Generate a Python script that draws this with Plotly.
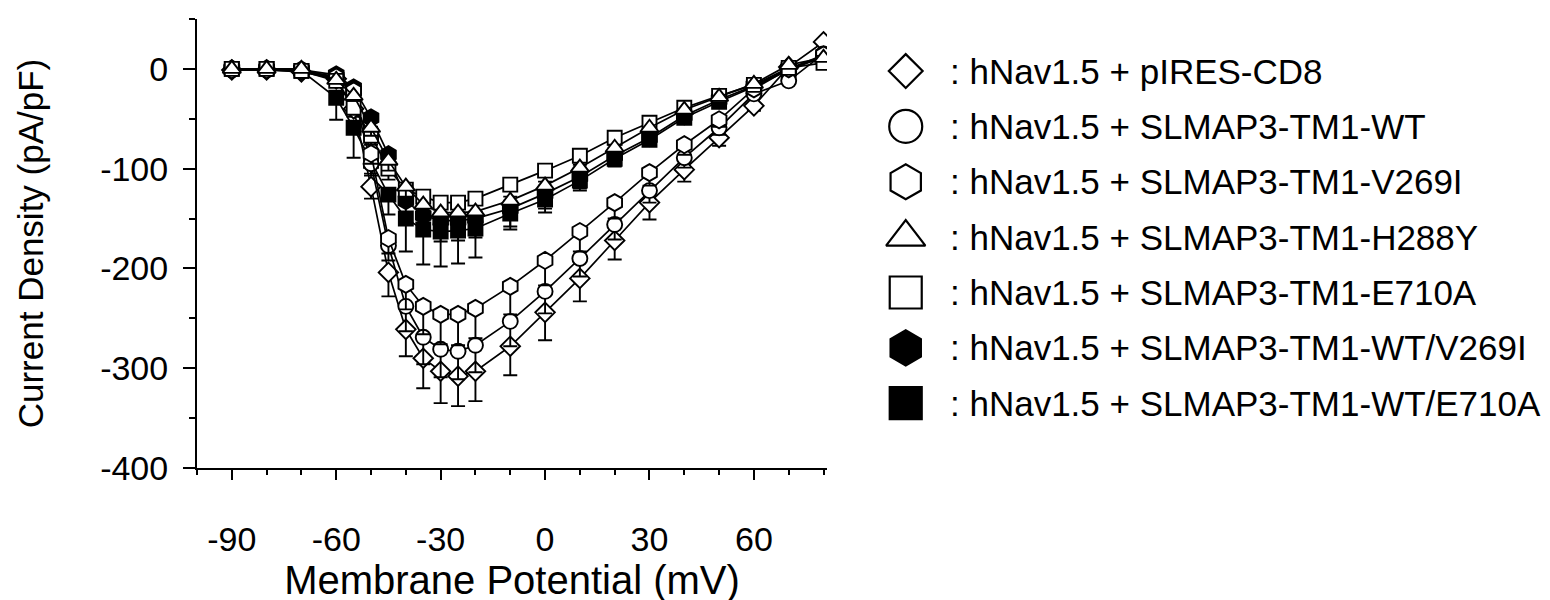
import plotly.graph_objects as go

# ---------------- data ----------------
voltage = [-90, -80, -70, -60, -55, -50, -45, -40, -35, -30, -25, -20,
           -10, 0, 10, 20, 30, 40, 50, 60, 70, 80]

pires_cd8 = [-1, -1, -3, -10, -40, -118, -204, -261, -290, -303, -308, -303,
             -278, -244, -210, -172, -134, -101, -69, -37, 2, 27]
pires_cd8_err = [0, 0, 1, 3, 8, 12, 24, 27, 30, 32, 30, 30,
                 29, 28, 23, 19, 17, 12, 8, 5, 3, 3]

wt = [-1, -1, -2, -8, -25, -95, -177, -238, -269, -281, -283, -277,
      -253, -223, -190, -156, -122, -89, -59, -25, -12, 15]
wt_err = [0, 0, 1, 2, 6, 10, 15, 25, 27, 28, 28, 27,
          25, 22, 18, 15, 12, 10, 7, 4, 3, 2]

v269i = [-1, -1, -2, -8, -22, -85, -170, -216, -238, -246, -246, -240,
         -218, -192, -163, -134, -104, -76, -51, -20, 0, 14]
v269i_err = [0, 0, 1, 2, 5, 10, 15, 25, 28, 30, 31, 30,
             28, 25, 20, 16, 13, 10, 7, 4, 3, 2]

h288y = [0, 0, 0, -11, -27, -59, -92, -118, -136, -144, -144, -143,
         -132, -117, -99, -79, -59, -41, -28, -15, 4, 11]
h288y_err = [0, 0, 1, 2, 5, 8, 10, 12, 14, 15, 15, 14,
             13, 12, 10, 8, 6, 5, 4, 3, 2, 2]

e710a = [0, 0, -2, -12, -39, -67, -100, -121, -128, -134, -134, -130,
         -116, -102, -87, -69, -54, -39, -27, -16, 1, 6]
e710a_err = [0, 0, 1, 3, 6, 9, 11, 13, 14, 15, 15, 14,
             12, 11, 9, 7, 6, 5, 4, 3, 2, 2]

wt_v269i = [0, 0, -1, -6, -19, -49, -86, -132, -147, -152, -152, -150,
            -140, -125, -108, -87, -69, -47, -31, -17, 0, 12]
wt_v269i_err = [0, 0, 1, 3, 6, 9, 14, 18, 20, 21, 20, 19,
                18, 15, 12, 10, 8, 6, 4, 3, 2, 2]

wt_e710a = [0, 0, -2, -29, -59, -92, -126, -150, -161, -163, -162, -160,
            -145, -131, -112, -90, -71, -49, -33, -18, -1, 12]
wt_e710a_err = [0, 0, 1, 22, 30, 15, 20, 33, 35, 35, 33, 29,
                16, 13, 10, 8, 5, 5, 4, 3, 2, 2]

legend_labels = [
    ": hNav1.5 + pIRES-CD8",
    ": hNav1.5 + SLMAP3-TM1-WT",
    ": hNav1.5 + SLMAP3-TM1-V269I",
    ": hNav1.5 + SLMAP3-TM1-H288Y",
    ": hNav1.5 + SLMAP3-TM1-E710A",
    ": hNav1.5 + SLMAP3-TM1-WT/V269I",
    ": hNav1.5 + SLMAP3-TM1-WT/E710A",
]
x_ticks = [-90, -60, -30, 0, 30, 60]
y_ticks = [0, -100, -200, -300, -400]

# ---------------- styling ----------------
FONT = "Liberation Sans, Arial, sans-serif"
BLACK = "#000000"
WHITE = "#ffffff"

# (values, errors, symbol, fill, size, legend row)
series = [
    (wt_e710a, wt_e710a_err, "square", BLACK, 14, 6),
    (wt_v269i, wt_v269i_err, "hexagon", BLACK, 17, 5),
    (pires_cd8, pires_cd8_err, "diamond", WHITE, 15, 0),
    (wt, wt_err, "circle", WHITE, 15, 1),
    (v269i, v269i_err, "hexagon", WHITE, 17, 2),
    (e710a, e710a_err, "square", WHITE, 14, 4),
    (h288y, h288y_err, "triangle-up", WHITE, 16, 3),
]

fig = go.Figure()
for vals, errs, sym, fill, size, row in series:
    fig.add_trace(go.Scatter(
        x=voltage, y=vals, mode="lines+markers",
        line=dict(color=BLACK, width=1.7),
        marker=dict(symbol=sym, size=size, color=fill, opacity=1,
                    line=dict(color=BLACK, width=1.9)),
        error_y=dict(type="data", symmetric=False,
                     array=[0] * len(errs), arrayminus=errs,
                     color=BLACK, thickness=1.9, width=7),
        showlegend=False, hoverinfo="x+y",
    ))

# custom legend drawn on its own hidden axes
legend_order = sorted(series, key=lambda s: s[5])
leg_sizes = {"diamond": 26, "circle": 33, "hexagon": 35,
             "triangle-up": 34, "square": 32}
fig.add_trace(go.Scatter(
    x=[0] * len(legend_order), y=[s[5] for s in legend_order],
    mode="markers", xaxis="x2", yaxis="y2", cliponaxis=False,
    marker=dict(symbol=[s[2] for s in legend_order],
                color=[s[3] for s in legend_order],
                size=[leg_sizes[s[2]] for s in legend_order],
                opacity=1,
                line=dict(color=BLACK, width=2.2)),
    showlegend=False, hoverinfo="skip",
))
for i, lab in enumerate(legend_labels):
    fig.add_annotation(x=0, y=i, xref="x2", yref="y2", text=lab,
                       showarrow=False, xanchor="left", yanchor="middle",
                       xshift=42, font=dict(family=FONT, size=35, color=BLACK))

W, H = 1550, 600
L, R, T, B = 189, 15, 11, 140
plot_w = W - L - R
main_right = (819 - L) / plot_w
leg_left = (834 - L) / plot_w

fig.update_layout(
    width=W, height=H,
    margin=dict(l=L, r=R, t=T, b=B),
    paper_bgcolor=WHITE, plot_bgcolor=WHITE,
    font=dict(family=FONT, color=BLACK),
    showlegend=False,
    xaxis=dict(
        domain=[0, main_right], range=[-100, 81],
        tickmode="array", tickvals=x_ticks,
        ticktext=[str(v) for v in x_ticks],
        ticks="outside", ticklen=10, tickwidth=2, tickcolor=BLACK,
        minor=dict(dtick=10, tick0=0, ticks="outside", ticklen=5,
                   tickwidth=2, tickcolor=BLACK),
        showline=True, linecolor=BLACK, linewidth=2,
        showgrid=False, zeroline=False,
        tickfont=dict(family=FONT, size=34, color=BLACK),
        ticklabelstandoff=30,
        title=dict(text="Membrane Potential (mV)",
                   font=dict(family=FONT, size=40, color=BLACK),
                   standoff=2),
    ),
    yaxis=dict(
        domain=[0, 1], range=[-400, 50],
        tickmode="array", tickvals=y_ticks,
        ticktext=[str(v) for v in y_ticks],
        ticks="outside", ticklen=12, tickwidth=2, tickcolor=BLACK,
        minor=dict(dtick=50, tick0=0, ticks="outside", ticklen=6,
                   tickwidth=2, tickcolor=BLACK),
        showline=True, linecolor=BLACK, linewidth=2,
        showgrid=False, zeroline=False,
        tickfont=dict(family=FONT, size=34, color=BLACK),
        ticklabelstandoff=8,
        title=dict(text="Current Density (pA/pF)",
                   font=dict(family=FONT, size=35, color=BLACK),
                   standoff=46),
    ),
    xaxis2=dict(domain=[leg_left, 1], range=[-1, 10], visible=False,
                fixedrange=True),
    yaxis2=dict(domain=[0, 1], range=[7.17, -0.94], visible=False,
                fixedrange=True, anchor="x2"),
)

fig.write_html("out.html")
